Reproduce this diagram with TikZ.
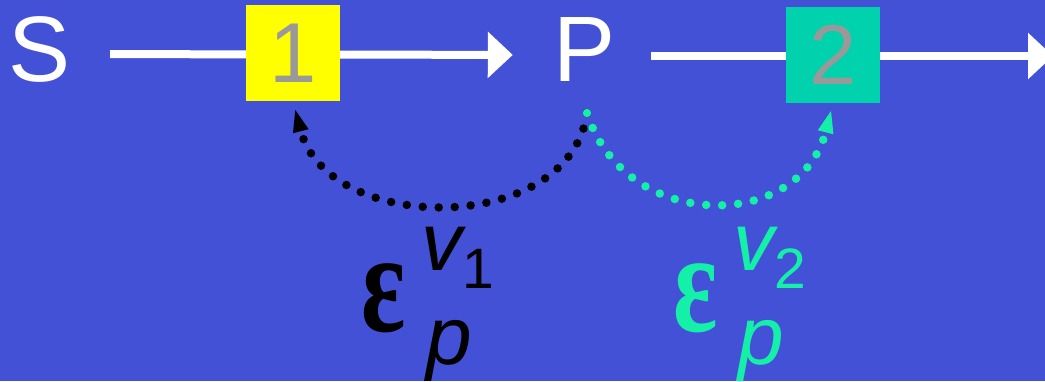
\documentclass[tikz,border=0pt]{standalone}
\usepackage{fontspec}
\setmainfont{Liberation Sans}
\newfontfamily\epsfont{Liberation Serif}
\usetikzlibrary{arrows.meta,positioning}
\definecolor{bgc}{HTML}{4351D6}
\definecolor{cellone}{HTML}{FFFF00}
\definecolor{celltwo}{HTML}{00D2AE}
\definecolor{digitc}{HTML}{999999}
\definecolor{mint}{HTML}{14F0A8}
\tikzset{
  flow/.style={-{Triangle[length=25pt,width=45pt]},line width=8pt,white},
  cell/.style={minimum width=94pt,minimum height=96pt,inner sep=0pt,text=digitc,font=\fontsize{85}{85}\selectfont},
  lbl/.style={white,inner sep=0pt,font=\fontsize{93}{93}\selectfont},
  dots/.style={line width=8.5pt,line cap=round,dash pattern=on 0pt off 16pt},
  eps/.style={inner sep=0pt,anchor=base west,font=\fontsize{144}{144}\epsfont\bfseries},
  sym/.style={inner sep=0pt,anchor=base west,font=\fontsize{82}{82}\selectfont\itshape},
  idx/.style={inner sep=0pt,anchor=base west,font=\fontsize{57}{57}\selectfont}
}
\begin{document}
\begin{tikzpicture}[x=1pt,y=-1pt]
\fill[bgc] (0,0) rectangle (1045,381);
\useasboundingbox (0,0) rectangle (1045,381);
\node[lbl] (S) at (40,49) {S};
\node[lbl] (P) at (585,50) {P};
\coordinate (tipR) at (1053,56);
\coordinate (arcS) at (587,113);
% main line
\draw[flow,shorten <=39pt,shorten >=41pt] ([yshift=-5pt]S.east) -- ([yshift=-5pt]P.west);
\draw[flow,shorten <=35pt] ([yshift=-6pt]P.east) -- (tipR);
\node[cell,fill=cellone] (c1) at (293,53) {1};
\node[cell,fill=celltwo] (c2) at (833,55) {2};
% feedback arcs
\draw[dots,black,-{Triangle[length=24pt,width=14pt]},shorten >=7pt] (arcS) .. controls (570,236) and (328,236) .. (c1.south);
\draw[dots,mint,-{Triangle[length=24pt,width=14pt]},shorten >=6pt] (arcS) .. controls (625,233) and (800,233) .. (c2.south);
% labels
\node[eps,text=black] (e1) at (361,331) {\scalebox{0.72}[1]{ε}};
\node[sym,text=black] (v1) at (421,270) {v};
\node[idx,text=black] (n1) at (462,288) {1};
\node[sym,text=black] (p1) at (426,364) {p};
\node[eps,text=mint] (e2) at (673,331) {\scalebox{0.72}[1]{ε}};
\node[sym,text=mint] (v2) at (733,270) {v};
\node[idx,text=mint] (n2) at (774,288) {2};
\node[sym,text=mint] (p2) at (738,364) {p};
\end{tikzpicture}
\end{document}
